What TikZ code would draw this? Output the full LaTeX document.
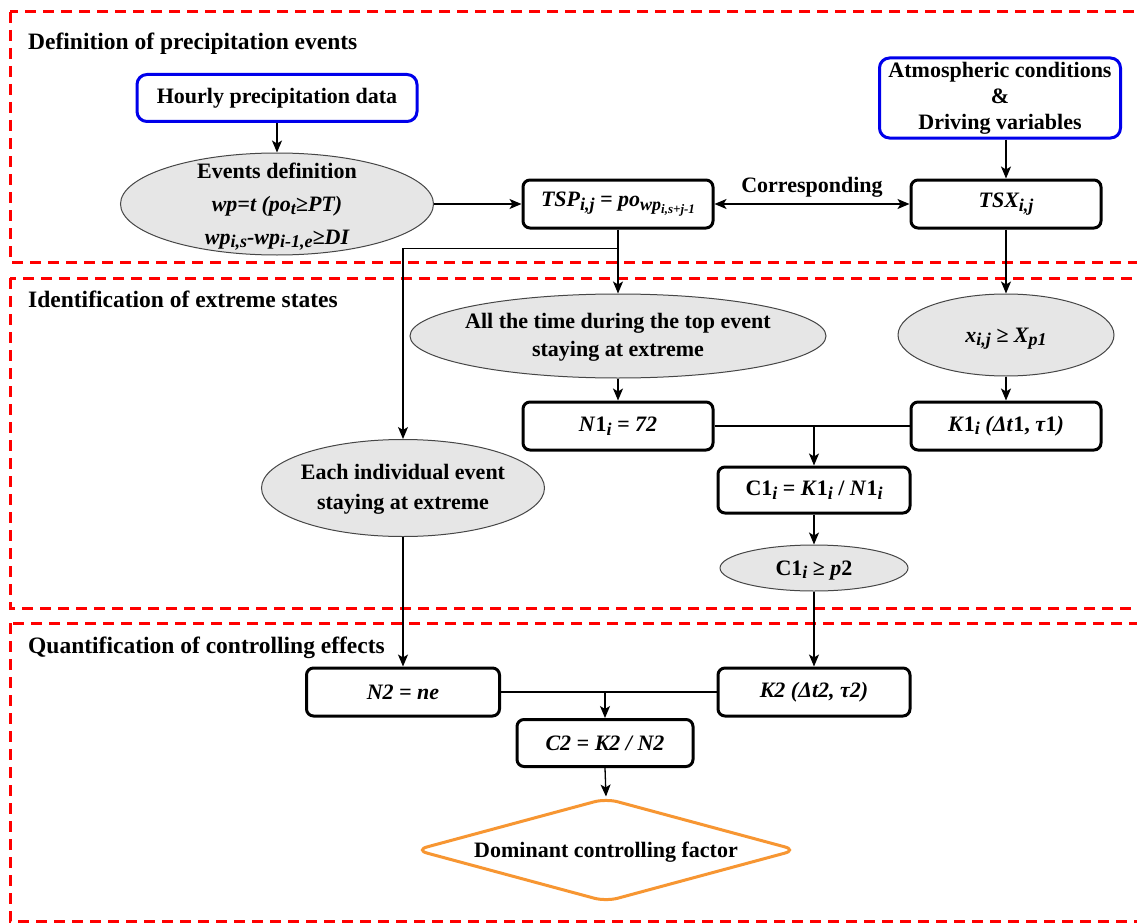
\documentclass[tikz,border=0pt]{standalone}
\usepackage{fontspec}
\setmainfont{Liberation Serif}
\usetikzlibrary{shapes.geometric,arrows.meta,calc}
\definecolor{redd}{RGB}{255,0,0}
\definecolor{bluee}{RGB}{0,0,235}
\definecolor{orangee}{RGB}{247,150,50}
\definecolor{ellfill}{RGB}{230,230,230}
\definecolor{ellline}{RGB}{70,70,70}
\newcommand\lsub[1]{\raisebox{-0.35ex}{\fontsize{18}{18}\selectfont #1}}
\newcommand\lsubb[1]{\raisebox{-0.35ex}{\fontsize{13}{13}\selectfont #1}}
\newcommand\zbox[2]{\makebox[0pt]{\raisebox{0pt}[0pt][0pt]{\raisebox{-6pt}{\fontsize{22}{#1}\selectfont\begin{tabular}{@{}c@{}}#2\end{tabular}}}}}
\newcommand\zl[1]{\makebox[0pt]{\raisebox{-7pt}[0pt][0pt]{#1}}}
\begin{document}
\begin{tikzpicture}[x=1pt,y=-1pt,
  font=\bfseries\fontsize{22}{26}\selectfont,
  sect/.style={draw=redd,line width=3pt,dash pattern=on 11pt off 7pt},
  ttl/.style={anchor=base west,inner sep=0pt,font=\bfseries\fontsize{23.5}{27}\selectfont},
  bluebox/.style={draw=bluee,line width=3pt,rounded corners=10pt,inner sep=2pt,fill=white},
  bbox/.style={draw=black,line width=3pt,rounded corners=7pt,inner sep=2pt,fill=white},
  ell/.style={ellipse,draw=ellline,line width=1pt,fill=ellfill,inner sep=0pt},
  dia/.style={diamond,draw=orangee,line width=3pt,rounded corners=12pt,inner sep=0pt,fill=white},
  conn/.style={draw=black,line width=1.3pt},
  arr/.style={conn,-{Stealth[length=12pt,width=10pt,inset=3pt]}},
  darr/.style={conn,{Stealth[length=12pt,width=10pt,inset=3pt]}-{Stealth[length=12pt,width=10pt,inset=3pt]}}]
\useasboundingbox (0,0) rectangle (1137,923);
\clip (0,0) rectangle (1137,923);
\fill[white] (0,0) rectangle (1137,923);
% sections
\draw[sect] (10,12) rectangle (1150,262);
\draw[sect] (10,278) rectangle (1150,608);
\draw[sect] (10,623) rectangle (1150,921);
\node[ttl] (t1) at (28,50) {Definition of precipitation events};
\node[ttl] (t2) at (28,307) {Identification of extreme states};
\node[ttl] (t3) at (28,653) {Quantification of controlling effects};
% nodes
\node[bluebox,minimum width=280pt,minimum height=47pt] (hourly) at (277,98) {Hourly precipitation data};
\node[bluebox,minimum width=241pt,minimum height=80pt,align=center] (atmos) at (1000,98) {Atmospheric conditions\\\&\\Driving variables};
\node[ell,minimum width=313pt,minimum height=102pt] (ev) at (277,204) {\zbox{33}{Events definition\\ \itshape wp=t (po\lsub{t}≥PT)\\ \itshape wp\lsub{i,s}-wp\lsub{i-1,e}≥DI}};
\node[bbox,minimum width=190pt,minimum height=48pt] (tsp) at (618,204) {\itshape TSP\lsub{i,j} = po\lsub{wp\lsubb{i,s+j-1}}};
\node[bbox,minimum width=190pt,minimum height=48pt] (tsx) at (1006,204) {\itshape TSX\lsub{i,j}};
\node[ell,minimum width=416pt,minimum height=84pt] (allt) at (618,336) {\zbox{28}{All the time during the top event\\staying at extreme}};
\node[ell,minimum width=216pt,minimum height=82pt] (xij) at (1006,335) {\zl{\itshape x\lsub{i,j} ≥ X\lsub{p1}}};
\node[bbox,minimum width=190pt,minimum height=48pt] (n1) at (618,426) {\textit{N}1\lsub{\textit{i}}\textit{ = 72}};
\node[bbox,minimum width=190pt,minimum height=48pt] (k1) at (1006,426) {\textit{K}1\lsub{\textit{i}} \textit{(Δt}1, \textit{τ}1\textit{)}};
\node[bbox,minimum width=192pt,minimum height=46pt] (c1) at (814,490) {C1\lsub{\textit{i}} = \textit{K}1\lsub{\textit{i}} / \textit{N}1\lsub{\textit{i}}};
\node[ell,minimum width=188pt,minimum height=46pt] (c1p) at (814,568) {\zl{C1\lsub{\textit{i}} ≥ \textit{p}2}};
\node[ell,minimum width=283pt,minimum height=97pt] (each) at (403,488) {\zbox{30}{Each individual event\\staying at extreme}};
\node[bbox,minimum width=193pt,minimum height=48pt] (n2) at (403,692) {\itshape N2 = ne};
\node[bbox,minimum width=192pt,minimum height=48pt] (k2) at (814,692) {\itshape K2 (Δt2, τ2)};
\node[bbox,minimum width=176pt,minimum height=47pt] (c2) at (605,743) {\itshape C2 = K2 / N2};
\node[dia,minimum width=382pt,minimum height=104pt] (dom) at (606,850) {\zl{Dominant controlling factor}};
% connectors
\draw[arr] (hourly.south) -- (ev.north);
\draw[arr] (atmos.south -| tsx.north) -- (tsx.north);
\draw[arr] (ev.east) -- (tsp.west);
\draw[darr] (tsp.east) -- node[above=6pt,inner sep=0pt] (corr) {Corresponding} (tsx.west);
\draw[arr] (tsp.south) -- (allt.north);
\path (tsp.south) ++(0,19) coordinate (j1);
\draw[arr] (j1) -| (each.north);
\draw[arr] (tsx.south) -- (xij.north);
\draw[arr] (allt.south) -- (n1.north);
\draw[arr] (xij.south) -- (k1.north);
\draw[conn] (n1.east) -- (k1.west);
\draw[arr] (n1.east -| c1.north) -- (c1.north);
\draw[arr] (c1.south) -- (c1p.north);
\draw[arr] (c1p.south) -- (k2.north);
\draw[arr] (each.south) -- (n2.north);
\draw[conn] (n2.east) -- (k2.west);
\draw[arr] (n2.east -| c2.north) -- (c2.north);
\draw[arr] (c2.south) -- (dom.north);
\end{tikzpicture}
\end{document}
